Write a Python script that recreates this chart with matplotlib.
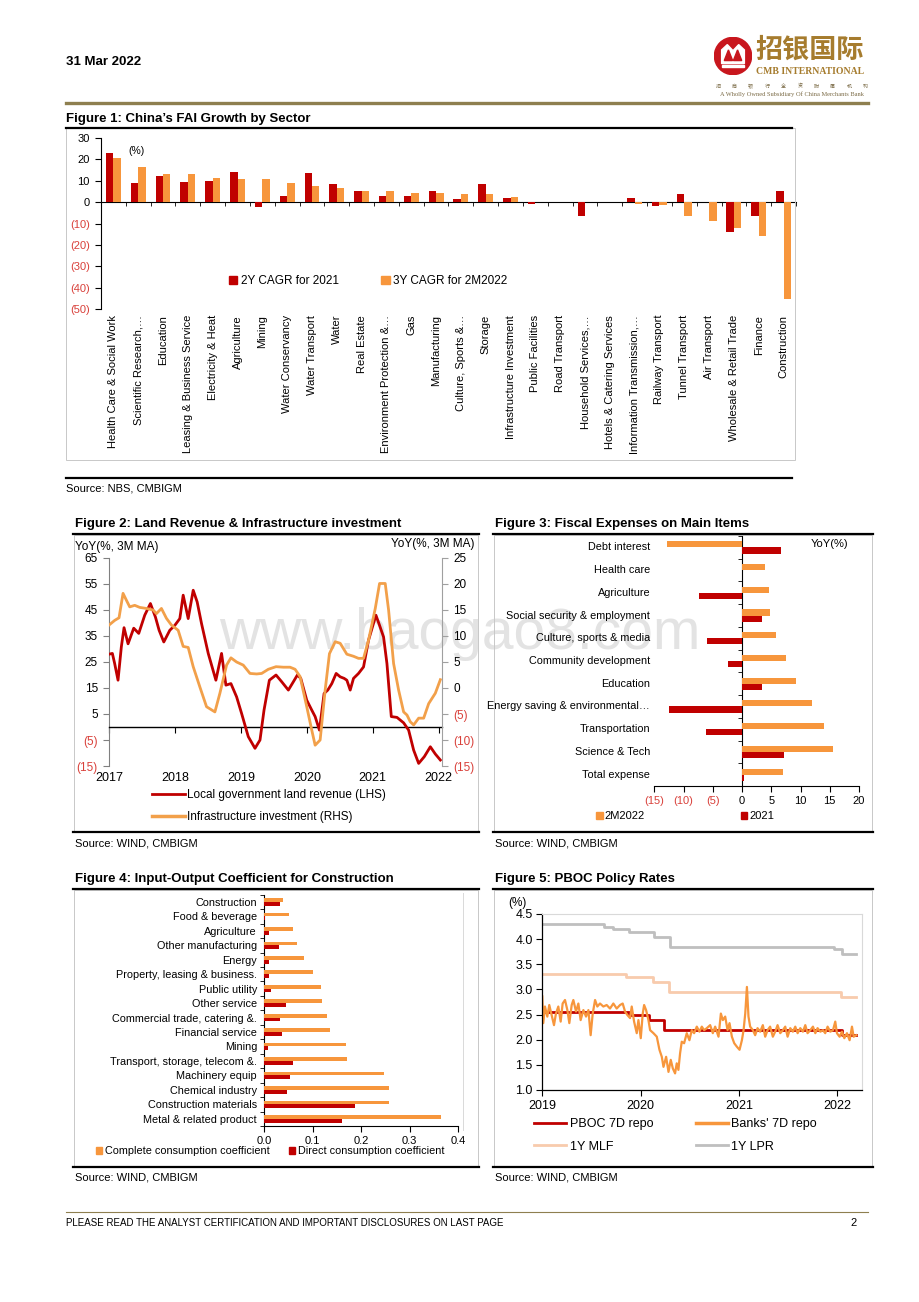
import numpy as np
import matplotlib
matplotlib.use('Agg')
import matplotlib.pyplot as plt
from matplotlib.lines import Line2D
from matplotlib.patches import Patch, Rectangle, Circle, Polygon

plt.rcParams['font.family'] = ['Liberation Sans', 'DejaVu Sans']

# ---- Figure 1: FAI growth by sector (%)
sectors = ['Health Care & Social Work', 'Scientific Research,…', 'Education',
           'Leasing & Business Service', 'Electricity & Heat', 'Agriculture', 'Mining',
           'Water Conservancy', 'Water Transport', 'Water', 'Real Estate',
           'Environment Protection &…', 'Gas', 'Manufacturing', 'Culture, Sports &…',
           'Storage', 'Infrastructure Investment', 'Public Facilities', 'Road Transport',
           'Household Services,…', 'Hotels & Catering Services', 'Information Transmission,…',
           'Railway Transport', 'Tunnel Transport', 'Air Transport',
           'Wholesale & Retail Trade', 'Finance', 'Construction']
cagr_2021 = [23.0, 9.0, 12.0, 9.3, 10.0, 14.3, -2.5, 3.0, 13.7, 8.3, 5.0, 2.7, 3.0, 5.3,
             1.5, 8.3, 1.7, -1.0, 0.0, -6.7, 0.0, 2.0, -1.8, 3.8, 0.0, -14.0, -6.3, 5.3]
cagr_2m2022 = [20.7, 16.5, 13.0, 13.0, 11.3, 11.0, 10.7, 9.0, 7.5, 6.7, 5.3, 5.3, 4.3, 4.3,
               4.0, 3.8, 2.4, -0.1, 0.0, 0.0, 0.0, -0.8, -1.2, -6.3, -8.7, -12.0, -16.0, -45.5]

# ---- Figure 2: land revenue (LHS) and infrastructure investment (RHS), YoY 3M MA
land_t = [2017.000, 2017.051, 2017.086, 2017.137, 2017.187, 2017.228, 2017.289, 2017.375,
          2017.451, 2017.542, 2017.628, 2017.704, 2017.760, 2017.831, 2017.922, 2017.998,
          2018.074, 2018.125, 2018.201, 2018.277, 2018.337, 2018.403, 2018.505, 2018.621,
          2018.707, 2018.773, 2018.849, 2018.935, 2019.011, 2019.112, 2019.214, 2019.290,
          2019.351, 2019.432, 2019.533, 2019.619, 2019.720, 2019.796, 2019.857, 2019.908,
          2019.999, 2020.075, 2020.126, 2020.191, 2020.262, 2020.318, 2020.379, 2020.445,
          2020.506, 2020.566, 2020.607, 2020.658, 2020.708, 2020.784, 2020.860, 2020.936,
          2021.048, 2021.103, 2021.164, 2021.215, 2021.281, 2021.367, 2021.468, 2021.544,
          2021.620, 2021.696, 2021.782, 2021.873, 2021.949, 2022.025]
land_v = [28.0, 28.3, 24.4, 18.0, 30.8, 38.2, 32.0, 38.0, 36.0, 43.0, 47.5, 42.3, 37.2, 32.7,
          37.2, 39.1, 41.7, 50.7, 41.7, 52.6, 48.1, 39.8, 28.3, 18.0, 28.3, 16.1, 16.7, 11.6,
          5.2, -3.7, -8.2, -5.0, 6.5, 18.0, 20.0, 17.4, 14.2, 17.4, 20.0, 18.7, 10.3, 6.5,
          4.0, -1.2, 12.9, 14.2, 16.7, 20.6, 19.3, 18.7, 18.0, 14.2, 18.7, 20.6, 23.1, 33.4,
          43.0, 39.1, 34.6, 24.4, 4.0, 3.7, 1.6, -1.2, -8.9, -14.0, -11.4, -7.6, -10.4, -12.7]
infra_t = [2017.000, 2017.086, 2017.152, 2017.213, 2017.263, 2017.314, 2017.390, 2017.466,
           2017.567, 2017.669, 2017.719, 2017.795, 2017.871, 2017.947, 2018.049, 2018.125,
           2018.201, 2018.277, 2018.378, 2018.479, 2018.606, 2018.682, 2018.783, 2018.849,
           2018.935, 2019.036, 2019.138, 2019.239, 2019.315, 2019.416, 2019.533, 2019.644,
           2019.746, 2019.822, 2019.898, 2019.999, 2020.075, 2020.126, 2020.202, 2020.278,
           2020.343, 2020.430, 2020.506, 2020.607, 2020.708, 2020.784, 2020.860, 2020.936,
           2021.038, 2021.103, 2021.189, 2021.240, 2021.316, 2021.392, 2021.468, 2021.519,
           2021.569, 2021.620, 2021.696, 2021.772, 2021.848, 2021.949, 2022.025]
infra_v = [12.1, 13.0, 13.5, 18.2, 16.9, 15.6, 15.9, 15.5, 15.3, 15.0, 14.3, 15.3, 13.4, 12.1,
           11.1, 8.0, 7.8, 4.1, 0.2, -3.6, -4.6, -1.0, 4.4, 5.8, 5.0, 4.4, 2.8, 2.7, 2.8, 3.6,
           4.1, 4.0, 4.0, 3.6, 2.2, -3.6, -8.1, -11.0, -10.0, -0.4, 6.6, 8.9, 8.6, 6.5, 6.1,
           5.7, 5.7, 9.2, 15.3, 20.1, 20.1, 15.0, 4.7, -0.4, -4.6, -5.2, -6.5, -7.1, -5.8,
           -5.8, -3.0, -1.0, 1.6]
years2 = [2017, 2018, 2019, 2020, 2021, 2022]

# ---- Figure 3: fiscal expenses YoY (%)
items = ['Debt interest', 'Health care', 'Agriculture', 'Social security & employment',
         'Culture, sports & media', 'Community development', 'Education',
         'Energy saving & environmental…', 'Transportation', 'Science & Tech', 'Total expense']
exp_2m2022 = [-12.8, 4.0, 4.6, 4.8, 5.8, 7.6, 9.2, 11.9, 14.0, 15.5, 7.0]
exp_2021 = [6.6, 0.0, -7.4, 3.4, -6.0, -2.4, 3.5, -12.5, -6.1, 7.2, 0.3]

# ---- Figure 4: input-output coefficients for construction
io_sectors = ['Construction', 'Food & beverage', 'Agriculture', 'Other manufacturing', 'Energy',
              'Property, leasing & business.', 'Public utility', 'Other service',
              'Commercial trade, catering &.', 'Financial service', 'Mining',
              'Transport, storage, telecom &.', 'Machinery equip', 'Chemical industry',
              'Construction materials', 'Metal & related product']
complete_coef = [0.039, 0.051, 0.060, 0.068, 0.083, 0.102, 0.117, 0.119, 0.130, 0.137, 0.169,
                 0.172, 0.248, 0.257, 0.257, 0.364]
direct_coef = [0.034, 0.003, 0.010, 0.031, 0.011, 0.011, 0.014, 0.045, 0.034, 0.038, 0.008,
               0.059, 0.054, 0.047, 0.187, 0.160]

# ---- Figure 5: PBOC policy rates (%)
rate_end = 2022.195
lpr_t = [2019.0, 2019.63, 2019.72, 2019.885, 2020.135, 2020.30, 2021.97, 2022.05]
lpr_v = [4.31, 4.25, 4.20, 4.15, 4.05, 3.85, 3.80, 3.70]
mlf_t = [2019.0, 2019.85, 2020.13, 2020.29, 2022.04]
mlf_v = [3.30, 3.25, 3.15, 2.95, 2.85]
pboc_t = [2019.0, 2019.88, 2020.09, 2020.24, 2022.045]
pboc_v = [2.55, 2.50, 2.40, 2.20, 2.10]
repo_t = [2019.000, 2019.010, 2019.027, 2019.051, 2019.071, 2019.095, 2019.119, 2019.139,
          2019.163, 2019.187, 2019.207, 2019.231, 2019.255, 2019.275, 2019.299, 2019.316,
          2019.343, 2019.367, 2019.390, 2019.418, 2019.445, 2019.469, 2019.492, 2019.513,
          2019.537, 2019.560, 2019.587, 2019.621, 2019.655, 2019.689, 2019.723, 2019.757,
          2019.791, 2019.818, 2019.842, 2019.866, 2019.893, 2019.910, 2019.934, 2019.961,
          2019.978, 2020.002, 2020.022, 2020.036, 2020.056, 2020.080, 2020.097, 2020.131,
          2020.165, 2020.192, 2020.216, 2020.233, 2020.260, 2020.284, 2020.307, 2020.328,
          2020.351, 2020.368, 2020.385, 2020.402, 2020.419, 2020.443, 2020.470, 2020.497,
          2020.521, 2020.545, 2020.572, 2020.599, 2020.623, 2020.647, 2020.674, 2020.708,
          2020.735, 2020.759, 2020.793, 2020.817, 2020.837, 2020.861, 2020.885, 2020.905,
          2020.929, 2020.953, 2020.980, 2021.007, 2021.031, 2021.048, 2021.065, 2021.082,
          2021.098, 2021.115, 2021.143, 2021.166, 2021.190, 2021.217, 2021.244, 2021.268,
          2021.292, 2021.318, 2021.346, 2021.370, 2021.394, 2021.421, 2021.448, 2021.472,
          2021.496, 2021.523, 2021.550, 2021.574, 2021.598, 2021.625, 2021.652, 2021.676,
          2021.699, 2021.727, 2021.754, 2021.778, 2021.801, 2021.829, 2021.856, 2021.879,
          2021.903, 2021.930, 2021.958, 2021.981, 2021.998, 2022.025, 2022.049, 2022.073,
          2022.100, 2022.127, 2022.151, 2022.168, 2022.195]
repo_v = [2.86, 2.33, 2.66, 2.46, 2.69, 2.49, 2.29, 2.52, 2.66, 2.36,
          2.72, 2.79, 2.59, 2.33, 2.69, 2.79, 2.56, 2.72, 2.39, 2.59,
          2.46, 2.59, 2.09, 2.52, 2.79, 2.66, 2.72, 2.66, 2.69, 2.62,
          2.72, 2.62, 2.69, 2.72, 2.56, 2.49, 2.43, 2.66, 2.36, 2.13,
          2.39, 2.03, 2.52, 2.69, 2.59, 2.39, 2.19, 2.13, 2.06, 1.80,
          1.66, 1.46, 1.66, 1.36, 1.60, 1.43, 1.33, 1.53, 1.40, 1.73,
          1.96, 1.93, 2.13, 1.99, 2.19, 2.13, 2.26, 2.16, 2.26, 2.19,
          2.23, 2.29, 2.13, 2.26, 2.06, 2.52, 2.39, 2.46, 2.19, 2.33,
          2.06, 1.93, 1.86, 1.80, 1.99, 2.19, 2.52, 3.05, 2.46, 2.26,
          2.19, 2.09, 2.23, 2.16, 2.29, 2.06, 2.19, 2.26, 2.06, 2.16,
          2.29, 2.13, 2.19, 2.26, 2.06, 2.23, 2.16, 2.26, 2.13, 2.23,
          2.16, 2.29, 2.13, 2.19, 2.26, 2.13, 2.23, 2.16, 2.19, 2.13,
          2.26, 2.16, 2.19, 2.36, 2.13, 2.06, 2.16, 2.03, 2.13, 1.99,
          2.26, 2.06, 2.09]
years5 = [2019, 2020, 2021, 2022]

RED = '#C00000'
ORANGE = '#F7963C'
ORANGE_LN = '#F2A04A'
PEACH = '#F8CBAD'
GREY = '#BFBFBF'
NEG = '#D9403A'
GOLD = '#8E7F4F'
BRONZE = '#A67C2E'

W, H = 920, 1302
fig = plt.figure(figsize=(W / 100, H / 100), dpi=100)


def fx(x):
    return x / W


def fy(y):
    return 1 - y / H


def rect(x0, y0, x1, y1):
    return [fx(x0), fy(y1), (x1 - x0) / W, (y1 - y0) / H]


def hline(x0, x1, y, color='black', lw=1.0):
    fig.add_artist(Line2D([fx(x0), fx(x1)], [fy(y), fy(y)], color=color, lw=lw))


def vline(x, y0, y1, color=GREY, lw=0.7):
    fig.add_artist(Line2D([fx(x), fx(x)], [fy(y0), fy(y1)], color=color, lw=lw))


def box(x0, y0, x1, y1, color='#C8C8C8'):
    fig.add_artist(Rectangle((fx(x0), fy(y1)), (x1 - x0) / W, (y1 - y0) / H,
                             fill=False, ec=color, lw=0.7))


def ftext(x, y, s, **kw):
    kw.setdefault('va', 'center')
    fig.text(fx(x), fy(y), s, **kw)


def paren(v):
    return '(%g)' % abs(v) if v < 0 else '%g' % v


def colour_neg(labels, values):
    for lab, v in zip(labels, values):
        if v < 0:
            lab.set_color(NEG)


# ---------------- header / footer
ftext(66, 62, '31 Mar 2022', fontsize=9.5, fontweight='bold')
lax = fig.add_axes(rect(714, 37, 752, 75))
lax.set_xlim(0, 1)
lax.set_ylim(0, 1)
lax.axis('off')
lax.add_patch(Circle((0.5, 0.5), 0.49, color='#C8161D'))
lax.add_patch(Polygon([(0.2, 0.3), (0.2, 0.66), (0.35, 0.8), (0.5, 0.64), (0.65, 0.8),
                       (0.8, 0.66), (0.8, 0.3)], closed=True, color='white'))
lax.add_patch(Polygon([(0.27, 0.38), (0.38, 0.66), (0.49, 0.38)], closed=True, color='#C8161D'))
lax.add_patch(Polygon([(0.51, 0.38), (0.62, 0.66), (0.73, 0.38)], closed=True, color='#C8161D'))
lax.add_patch(Rectangle((0.2, 0.2), 0.6, 0.06, color='white'))
ftext(810, 50, '招银国际', fontsize=19.5, fontweight='bold', color=BRONZE, ha='center',
      family=['Noto Sans CJK SC', 'DejaVu Sans'])
ftext(810, 72, 'CMB INTERNATIONAL', fontsize=7, fontweight='bold', color=BRONZE, ha='center',
      family='Liberation Serif')
for i, ch in enumerate('招商银行全资附属机构'):
    ftext(718 + i * 16.4, 86, ch, fontsize=3.6, color='#7A6A45', ha='center',
          family=['Noto Sans CJK SC', 'DejaVu Sans'])
ftext(792, 94, 'A Wholly Owned Subsidiary Of China Merchants Bank', fontsize=4.6,
      color='#7A6A45', ha='center', family='Liberation Serif')
hline(66, 868, 103, color=GOLD, lw=2.4)

hline(66, 868, 1212, color=GOLD, lw=0.8)
ftext(66, 1223, 'PLEASE READ THE ANALYST CERTIFICATION AND IMPORTANT DISCLOSURES ON LAST PAGE',
      fontsize=7)
ftext(857, 1223, '2', fontsize=8, ha='right')

# ---------------- Figure 1
ftext(66, 119, 'Figure 1: China’s FAI Growth by Sector', fontsize=9.5, fontweight='bold')
box(66, 128, 795, 460)
hline(66, 792, 128, lw=1.6)
hline(66, 792, 478, lw=1.6)
ftext(66, 488, 'Source: NBS, CMBIGM', fontsize=8)

ax1 = fig.add_axes(rect(101, 138, 796, 309))
xs = np.arange(len(sectors))
ax1.bar(xs - 0.15, cagr_2021, 0.3, color=RED, zorder=3)
ax1.bar(xs + 0.15, cagr_2m2022, 0.3, color=ORANGE, zorder=3)
ax1.set_xlim(-0.5, len(sectors) - 0.5)
ax1.set_ylim(-50, 30)
yt = list(range(-50, 31, 10))
ax1.set_yticks(yt)
ax1.set_yticklabels([paren(v) for v in yt], fontsize=8)
colour_neg(ax1.get_yticklabels(), yt)
ax1.spines['top'].set_visible(False)
ax1.spines['right'].set_visible(False)
ax1.spines['bottom'].set_position(('data', 0))
ax1.spines['left'].set_linewidth(0.8)
ax1.spines['bottom'].set_linewidth(0.8)
ax1.set_xticks(np.arange(-0.5, len(sectors), 1))
ax1.set_xticklabels([])
ax1.tick_params(axis='x', length=3, width=0.6)
ax1.tick_params(axis='y', length=4, width=0.8, pad=4)
for i, s in enumerate(sectors):
    ax1.text(i, -0.035, s, transform=ax1.get_xaxis_transform(), rotation=90,
             ha='center', va='top', fontsize=8)
ftext(128, 151, '(%)', fontsize=7.5)
fig.legend([Patch(color=RED), Patch(color=ORANGE)], ['2Y CAGR for 2021', '3Y CAGR for 2M2022'],
           loc='center left', bbox_to_anchor=(fx(229), fy(281)), ncol=2, frameon=False,
           fontsize=8.5, handlelength=0.7, handleheight=0.7, handletextpad=0.3,
           columnspacing=3.6, borderpad=0, borderaxespad=0)

# ---------------- Figure 2
ftext(75, 524, 'Figure 2: Land Revenue & Infrastructure investment', fontsize=9.5,
      fontweight='bold')
box(74, 535, 478, 832)
hline(73, 479, 534, lw=1.6)
hline(73, 479, 832, lw=1.6)
ftext(75, 844, 'Source: WIND, CMBIGM', fontsize=8)

ax2 = fig.add_axes(rect(109, 558, 442, 766))
ax2.set_facecolor('none')
ax2.plot(land_t, land_v, color=RED, lw=2, zorder=3)
ax2.set_xlim(2017, 2022.05)
ax2.set_ylim(-15, 65)
yt = list(range(-15, 66, 10))
ax2.set_yticks(yt)
ax2.set_yticklabels([paren(v) for v in yt], fontsize=8.5)
colour_neg(ax2.get_yticklabels(), yt)
ax2.spines['top'].set_visible(False)
ax2.spines['right'].set_visible(False)
ax2.spines['left'].set_color('#808080')
ax2.spines['bottom'].set_position(('data', 0))
ax2.spines['bottom'].set_linewidth(1.0)
ax2.set_xticks(years2)
ax2.set_xticklabels([])
ax2.tick_params(axis='x', length=4, width=0.8)
ax2.tick_params(axis='y', length=4, width=0.8, color='#808080', pad=4)
for yr in years2:
    ax2.text(yr, -0.03, str(yr), transform=ax2.get_xaxis_transform(), ha='center',
             va='top', fontsize=9)
ax2r = ax2.twinx()
ax2r.set_facecolor('none')
ax2r.plot(infra_t, infra_v, color=ORANGE_LN, lw=2, zorder=2)
ax2r.set_ylim(-15, 25)
yt = list(range(-15, 26, 5))
ax2r.set_yticks(yt)
ax2r.set_yticklabels([paren(v) for v in yt], fontsize=8.5)
colour_neg(ax2r.get_yticklabels(), yt)
for side in ['top', 'left', 'bottom']:
    ax2r.spines[side].set_visible(False)
ax2r.spines['right'].set_color('#A0A0A0')
ax2r.tick_params(axis='y', length=4, width=0.8, color='#A0A0A0', pad=4)
ftext(75, 547, 'YoY(%, 3M MA)', fontsize=8.5)
ftext(475, 544, 'YoY(%, 3M MA)', fontsize=8.5, ha='right')
fig.legend([Line2D([], [], color=RED, lw=2), Line2D([], [], color=ORANGE_LN, lw=2.5)],
           ['Local government land revenue (LHS)', 'Infrastructure investment (RHS)'],
           loc='upper left', bbox_to_anchor=(fx(152), fy(789)), frameon=False, fontsize=8.5,
           handlelength=2.8, handletextpad=0.2, labelspacing=0.85, borderpad=0,
           borderaxespad=0)

# ---------------- Figure 3
ftext(495, 524, 'Figure 3: Fiscal Expenses on Main Items', fontsize=9.5, fontweight='bold')
box(494, 535, 872, 832)
hline(493, 873, 534, lw=1.6)
hline(493, 873, 832, lw=1.6)
ftext(495, 844, 'Source: WIND, CMBIGM', fontsize=8)

ax3 = fig.add_axes(rect(654.3, 536, 859, 786))
ax3.set_facecolor('none')
ys = np.arange(len(items))
ax3.barh(ys - 0.135, exp_2m2022, 0.27, color=ORANGE, zorder=3)
ax3.barh(ys + 0.135, exp_2021, 0.27, color=RED, zorder=3)
ax3.set_ylim(len(items) - 0.5, -0.5)
ax3.set_xlim(-15, 20)
xt = list(range(-15, 21, 5))
ax3.set_xticks(xt)
ax3.set_xticklabels([paren(v) for v in xt], fontsize=8)
colour_neg(ax3.get_xticklabels(), xt)
ax3.spines['top'].set_visible(False)
ax3.spines['right'].set_visible(False)
ax3.spines['left'].set_position(('data', 0))
ax3.spines['left'].set_linewidth(0.8)
ax3.spines['bottom'].set_linewidth(0.8)
ax3.set_yticks(np.arange(-0.5, len(items), 1))
ax3.set_yticklabels([])
ax3.tick_params(axis='y', length=3, width=0.6)
ax3.tick_params(axis='x', length=4, width=0.8, pad=3)
for i, s in enumerate(items):
    ax3.text(-0.02, i, s, transform=ax3.get_yaxis_transform(), ha='right', va='center',
             fontsize=7.8)
ftext(830, 544, 'YoY(%)', fontsize=8, ha='center')
fig.legend([Patch(color=ORANGE), Patch(color=RED)], ['2M2022', '2021'],
           loc='center left', bbox_to_anchor=(fx(596), fy(816)), ncol=2, frameon=False,
           fontsize=8, handlelength=0.6, handleheight=0.6, handletextpad=0.2,
           columnspacing=8.6, borderpad=0, borderaxespad=0)

# ---------------- Figure 4
ftext(75, 879, 'Figure 4: Input-Output Coefficient for Construction', fontsize=9.5,
      fontweight='bold')
box(74, 890, 478, 1166)
hline(73, 479, 889, lw=1.6)
hline(73, 479, 1167, lw=1.6)
ftext(75, 1178, 'Source: WIND, CMBIGM', fontsize=8)
vline(463, 893, 1130, color='#D9D9D9')

ax4 = fig.add_axes(rect(264, 894.7, 458, 1126))
ys = np.arange(len(io_sectors))
ax4.barh(ys - 0.13, complete_coef, 0.26, color=ORANGE, zorder=3)
ax4.barh(ys + 0.13, direct_coef, 0.26, color=RED, zorder=3)
ax4.set_ylim(len(io_sectors) - 0.5, -0.5)
ax4.set_xlim(0, 0.4)
ax4.set_xticks(np.arange(0, 0.41, 0.1))
ax4.set_xticklabels(['%.1f' % v for v in np.arange(0, 0.41, 0.1)], fontsize=8)
ax4.set_yticks(ys)
ax4.set_yticklabels(io_sectors, fontsize=7.8)
ax4.set_yticks(np.arange(-0.5, len(io_sectors), 1), minor=True)
ax4.tick_params(axis='y', which='major', length=0, pad=5)
ax4.tick_params(axis='y', which='minor', length=3, width=0.6)
ax4.tick_params(axis='x', length=4, width=0.8, pad=3)
ax4.spines['top'].set_visible(False)
ax4.spines['right'].set_visible(False)
ax4.spines['left'].set_linewidth(0.8)
ax4.spines['bottom'].set_linewidth(0.8)
fig.legend([Patch(color=ORANGE), Patch(color=RED)],
           ['Complete consumption coefficient', 'Direct consumption coefficient'],
           loc='center left', bbox_to_anchor=(fx(96), fy(1151)), ncol=2, frameon=False,
           fontsize=7.8, handlelength=0.6, handleheight=0.6, handletextpad=0.2,
           columnspacing=1.8, borderpad=0, borderaxespad=0)

# ---------------- Figure 5
ftext(495, 879, 'Figure 5: PBOC Policy Rates', fontsize=9.5, fontweight='bold')
box(494, 890, 872, 1166)
hline(493, 873, 889, lw=1.6)
hline(493, 873, 1167, lw=1.6)
ftext(495, 1178, 'Source: WIND, CMBIGM', fontsize=8)

ax5 = fig.add_axes(rect(542.3, 914, 861.7, 1090))
ax5.step(lpr_t + [rate_end], lpr_v + [lpr_v[-1]], where='post', color=GREY, lw=2)
ax5.step(mlf_t + [rate_end], mlf_v + [mlf_v[-1]], where='post', color=PEACH, lw=2)
ax5.step(pboc_t + [rate_end], pboc_v + [pboc_v[-1]], where='post', color=RED, lw=2)
ax5.plot(repo_t, repo_v, color=ORANGE, lw=1.6)
ax5.set_xlim(2019, 2022.25)
ax5.set_ylim(1.0, 4.5)
yt = np.arange(1.0, 4.51, 0.5)
ax5.set_yticks(yt)
ax5.set_yticklabels(['%.1f' % v for v in yt], fontsize=9)
ax5.set_xticks(years5)
ax5.set_xticklabels([str(y) for y in years5], fontsize=9)
ax5.tick_params(axis='both', length=4, width=0.8, pad=3)
ax5.spines['top'].set_color('#D9D9D9')
ax5.spines['right'].set_color('#D9D9D9')
ax5.spines['left'].set_linewidth(0.9)
ax5.spines['bottom'].set_linewidth(0.9)
ftext(508, 903, '(%)', fontsize=8.5)
fig.legend([Line2D([], [], color=RED, lw=2), Line2D([], [], color=PEACH, lw=2),
            Line2D([], [], color=ORANGE, lw=2.5), Line2D([], [], color=GREY, lw=2)],
           ['PBOC 7D repo', '1Y MLF', 'Banks\' 7D repo', '1Y LPR'],
           loc='upper left', bbox_to_anchor=(fx(534), fy(1118)), ncol=2, frameon=False,
           fontsize=9, handlelength=2.6, handletextpad=0.25, labelspacing=0.85,
           columnspacing=3.4, borderpad=0, borderaxespad=0)

# watermark on the page, behind the lines
fig.text(fx(460), fy(634), 'www.baogao8.com', fontsize=41, color='#E3E3E3', ha='center',
         va='center', zorder=-1)

fig.savefig('out.png', dpi=100)
